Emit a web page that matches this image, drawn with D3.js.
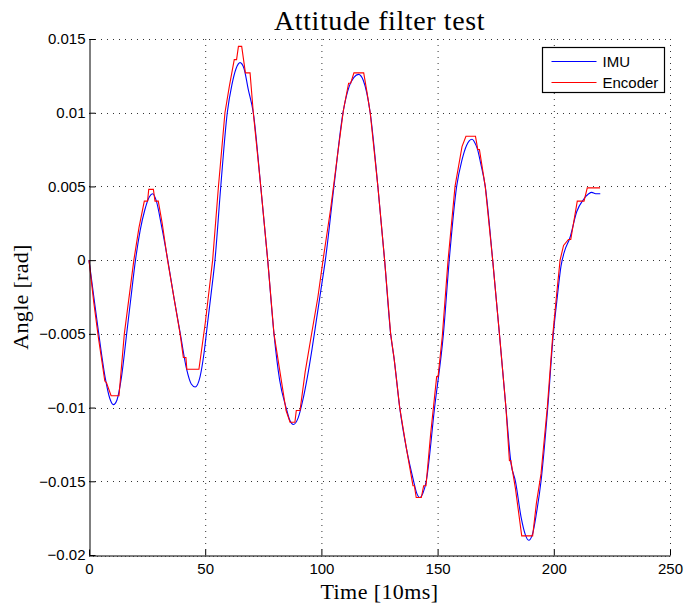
<!DOCTYPE html>
<html>
<head>
<meta charset="utf-8">
<script src="https://cdn.jsdelivr.net/npm/d3@7"></script>
<style>
  body { margin: 0; background: #fff; }
  .tick text { font-family: "Liberation Sans", Arial, sans-serif; font-size: 15px; fill: #000; }
  .label { font-family: "Liberation Serif", "DejaVu Serif", serif; fill: #000; }
</style>
</head>
<body>
<div id="chart"></div>
<script>
// IMU estimate: time [10ms] and angle [rad]
const imuTime = [0, 2, 4.2, 7, 9, 10.5, 12, 14, 16.2, 18, 20, 22, 24, 26, 27.4, 29, 31, 33.9, 36.5, 39.3,
  42, 44, 45.7, 47.8, 49.5, 51, 52.6, 54.2, 56.7, 59.5, 61.5, 63.3, 65, 66.7, 68.5, 70.7, 73.9, 76.9, 79.6,
  82, 84.8, 86.5, 87.9, 90, 92, 94, 96, 98, 100, 101.7, 105.4, 109.3, 112, 114, 116, 118, 121, 124.3,
  127.2, 129.8, 131.3, 133.7, 136.5, 139.7, 141, 142.3, 143.7, 145.1, 148.7, 152.5, 155, 158.2, 160.5,
  162.5, 164.8, 166.5, 167.2, 168.5, 170.5, 173.7, 176.6, 179.4, 181.6, 183.5, 186, 187.7, 189.2, 190.8,
  192.5, 194.5, 197.4, 199.8, 201.5, 203.1, 204.6, 206.9, 209.9, 212.7, 215, 216.3, 218, 220];
const imuAngle = [0, -0.0024, -0.005, -0.008, -0.0094, -0.0098, -0.0095, -0.0079, -0.005, -0.0026, 0,
  0.002, 0.0034, 0.0043, 0.0045, 0.004, 0.0025, 0, -0.0025, -0.005,
  -0.0074, -0.0084, -0.0086, -0.0079, -0.0063, -0.0043, -0.0022, 0, 0.005, 0.01, 0.0119, 0.013, 0.0134,
  0.013, 0.0116, 0.01, 0.005, 0, -0.005,
  -0.0081, -0.01, -0.0109, -0.01115, -0.0107, -0.0095, -0.0079, -0.006, -0.0039, -0.0018, 0, 0.005, 0.01,
  0.0118, 0.0124, 0.0126, 0.0122, 0.01, 0.005,
  0, -0.005, -0.0067, -0.01, -0.0127, -0.015, -0.0158, -0.0161, -0.0158, -0.015, -0.01, -0.005, 0, 0.005,
  0.0068, 0.0078, 0.0082, 0.0078, 0.0075, 0.0066, 0.005, 0, -0.005, -0.01, -0.0138, -0.015, -0.0175,
  -0.0186, -0.019, -0.0186, -0.0172, -0.015, -0.01, -0.005, -0.0025, -0.0004, 0.0006, 0.0015, 0.0033,
  0.0041, 0.0045, 0.0046, 0.0045, 0.0045];

// Encoder reference (quantized steps)
const encTime = [0, 2, 4, 6.8, 7.5, 9.5, 12.9, 15.2, 19.3, 21.5, 23.8, 25.2, 25.7, 27.7, 28.4, 29.8,
  31.5, 33.8, 39.2, 40.6, 41.7, 42.1, 47.3, 50, 53.2, 55.7, 58.5, 60.4, 62.5, 63.5, 64.3, 65.7, 67.3,
  69.3, 70.7, 73.9, 76.9, 79.6, 84.8, 86.5, 88.6, 89.2, 90.8, 93, 96, 98.5, 100.7, 103.9, 107, 109.5,
  111.7, 112.6, 114, 118.2, 119.5, 121, 124.3, 127.2, 129.8, 131.3, 133.7, 136.5, 139.4, 140, 140.8,
  143, 144, 145, 147, 149.6, 150.2, 152, 154.5, 157.5, 160.5, 162.2, 166.3, 167.3, 168, 170.5, 173.7,
  176.6, 179.4, 180.9, 181.5, 183.5, 186.2, 190.9, 192.5, 194.5, 197.2, 199.6, 201.3, 202.7, 204.2,
  206.3, 207.3, 210.1, 213, 214.4, 219.9];
const encAngle = [0, -0.0028, -0.0052, -0.0082, -0.0083, -0.0092, -0.0092, -0.005, 0, 0.0022, 0.004,
  0.004, 0.0048, 0.0048, 0.004, 0.004,
  0.0025, 0, -0.005, -0.0066, -0.0066, -0.0074, -0.0074, -0.0043, 0, 0.005, 0.01, 0.0118, 0.0136,
  0.0136, 0.0145, 0.0145, 0.0127,
  0.0127, 0.01, 0.005, 0, -0.005, -0.0102, -0.011, -0.011, -0.0102, -0.0102, -0.0076, -0.0048, -0.0025,
  0, 0.0034, 0.0072, 0.0102,
  0.012, 0.012, 0.0127, 0.0127, 0.0115, 0.01, 0.005, 0, -0.005, -0.0067, -0.01, -0.0127, -0.0153,
  -0.0153, -0.0161,
  -0.0161, -0.0153, -0.0153, -0.0118, -0.0079, -0.0079, -0.0052, 0, 0.005, 0.0077, 0.0084, 0.0084,
  0.0075, 0.0075, 0.005, 0,
  -0.005, -0.01, -0.0136, -0.0136, -0.0155, -0.0187, -0.0187, -0.0165, -0.0145, -0.01, -0.005, -0.0022,
  0, 0.001,
  0.0014, 0.0014, 0.004, 0.004, 0.0049, 0.0049];

const xTicks = [0, 50, 100, 150, 200, 250];
const yTicks = [-0.02, -0.015, -0.01, -0.005, 0, 0.005, 0.01, 0.015];
const yTickLabels = ["\u22120.02", "\u22120.015", "\u22120.01", "\u22120.005", "0", "0.005", "0.01", "0.015"];
const seriesNames = ["IMU", "Encoder"];
const seriesColors = ["#0000ff", "#ff0000"];

const width = 688, height = 606;
const margin = {top: 39, right: 18, bottom: 51, left: 89};
const innerW = width - margin.left - margin.right;
const innerH = height - margin.top - margin.bottom;

const svg = d3.select("#chart").append("svg")
  .attr("width", width)
  .attr("height", height);

const x = d3.scaleLinear().domain([0, 250]).range([0, innerW]);
const y = d3.scaleLinear().domain([-0.02, 0.015]).range([innerH, 0]);

const g = svg.append("g")
  .attr("transform", `translate(${margin.left},${margin.top})`);

// dotted grid
g.append("g").selectAll("line")
  .data(xTicks.filter(d => d !== 0))
  .join("line")
    .attr("x1", d => x(d) + 0.5).attr("x2", d => x(d) + 0.5)
    .attr("y1", 0).attr("y2", innerH)
    .attr("stroke", "#333").attr("stroke-width", 1)
    .attr("stroke-dasharray", "1,5");
g.append("g").selectAll("line")
  .data(yTicks)
  .join("line")
    .attr("x1", 0).attr("x2", innerW)
    .attr("y1", d => Math.round(y(d)) + (d === -0.02 ? 1.5 : 0.5))
    .attr("y2", d => Math.round(y(d)) + (d === -0.02 ? 1.5 : 0.5))
    .attr("stroke", d => d === -0.02 ? "#777" : "#333").attr("stroke-width", 1)
    .attr("stroke-dasharray", d => d === -0.02 ? "1,3" : "1,5");

// series
const imuData = imuTime.map((t, i) => [t, imuAngle[i]]);
const encData = encTime.map((t, i) => [t, encAngle[i]]);

const imuLine = d3.line().x(d => x(d[0])).y(d => y(d[1])).curve(d3.curveMonotoneX);
const encLine = d3.line().x(d => x(d[0])).y(d => y(d[1]));

g.append("path").datum(imuData)
  .attr("d", imuLine)
  .attr("fill", "none").attr("stroke", seriesColors[0]).attr("stroke-width", 1.1);
g.append("path").datum(encData)
  .attr("d", encLine)
  .attr("fill", "none").attr("stroke", seriesColors[1]).attr("stroke-width", 1.1);

// axes, ticks pointing inward
const xAxis = d3.axisBottom(x).tickValues(xTicks).tickSizeInner(-6).tickSizeOuter(0).tickPadding(8);
const yAxis = d3.axisLeft(y).tickValues(yTicks).tickSizeInner(-6).tickSizeOuter(0).tickPadding(4)
  .tickFormat((d, i) => yTickLabels[i]);

g.append("g")
  .attr("transform", `translate(0,${innerH + 0.5})`)
  .call(xAxis)
  .call(a => a.select(".domain").attr("stroke", "#000"));
g.append("g")
  .attr("transform", "translate(0.5,0)")
  .call(yAxis)
  .call(a => a.select(".domain").attr("stroke", "#000"));
g.selectAll(".tick line").attr("stroke", "#000");

// title and axis labels
svg.append("text").attr("class", "label")
  .attr("x", margin.left + innerW / 2).attr("y", 30)
  .attr("text-anchor", "middle").attr("font-size", 28).attr("letter-spacing", 0.6)
  .text("Attitude filter test");
svg.append("text").attr("class", "label")
  .attr("x", margin.left + innerW / 2).attr("y", 599)
  .attr("text-anchor", "middle").attr("font-size", 22).attr("letter-spacing", 0.4)
  .text("Time [10ms]");
svg.append("text").attr("class", "label")
  .attr("transform", `translate(28,${margin.top + innerH / 2}) rotate(-90)`)
  .attr("text-anchor", "middle").attr("font-size", 22).attr("letter-spacing", 0.3)
  .text("Angle [rad]");

// legend
const legend = svg.append("g").attr("transform", "translate(542.5,47.5)");
legend.append("rect")
  .attr("width", 122).attr("height", 45)
  .attr("fill", "#fff").attr("stroke", "#000").attr("stroke-width", 1.2);
seriesNames.forEach((name, i) => {
  const ly = 14 + i * 21;
  legend.append("line")
    .attr("x1", 9).attr("x2", 54).attr("y1", ly).attr("y2", ly)
    .attr("stroke", seriesColors[i]).attr("stroke-width", 1.1);
  legend.append("text")
    .attr("x", 60).attr("y", ly + 5)
    .attr("font-family", "Liberation Sans, Arial, sans-serif").attr("font-size", 15)
    .text(name);
});
</script>
</body>
</html>
